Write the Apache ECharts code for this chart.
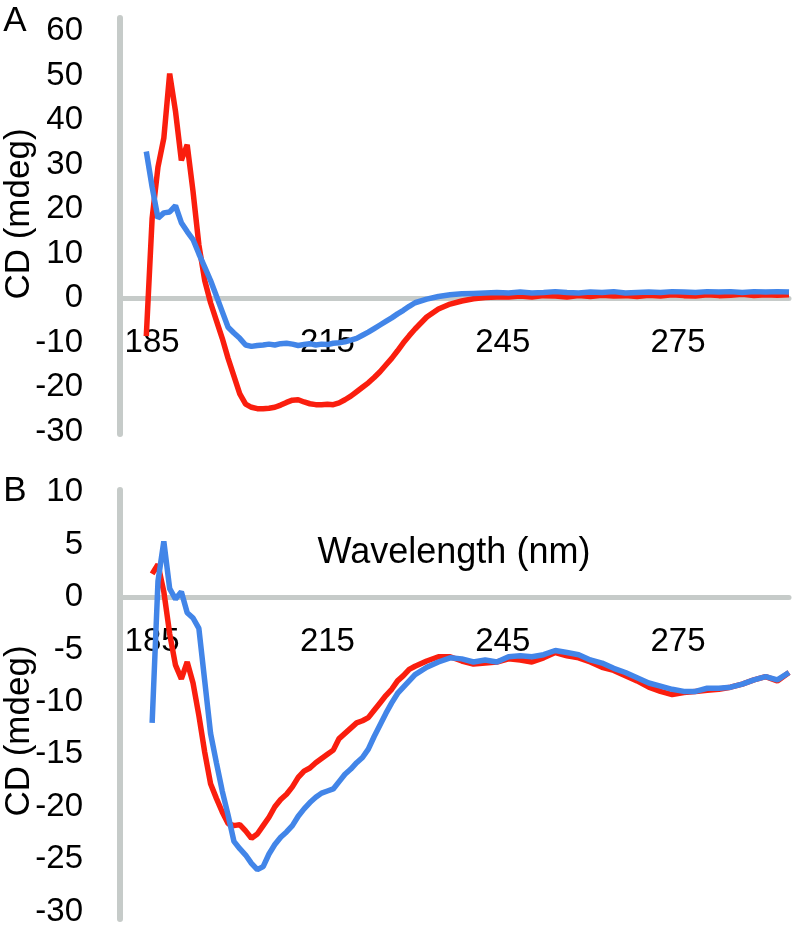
<!DOCTYPE html>
<html><head><meta charset="utf-8">
<script src="https://cdn.jsdelivr.net/npm/echarts@6/dist/echarts.min.js"></script>
<style>html,body{margin:0;padding:0;background:#fff}#c{width:796px;height:936px}</style>
</head><body><div id="c"></div>
<script>
// Wavelength (nm)
const wavelengths = [184,185,186,187,188,189,190,191,192,193,194,195,196,197,198,199,200,201,202,203,204,205,206,207,208,209,210,211,212,213,214,215,216,217,218,219,220,221,222,223,224,225,226,227,228,229,230,
  232,234,236,238,240,242,244,246,248,250,252,254,256,258,260,262,264,266,268,270,272,274,276,278,280,282,284,286,288,290,292,294];
const xTickLabels = [185,215,245,275];
const yTicksA = [-30,-20,-10,0,10,20,30,40,50,60];
const yTicksB = [-30,-25,-20,-15,-10,-5,0,5,10];

// Panel A, CD (mdeg)
const panelARed = [-8.5,18,29.5,36,50.5,42,31,34.5,24,12,4,-1,-5,-9,-13.5,-17.5,-21.5,-23.8,-24.5,-24.8,-24.8,-24.7,-24.5,-24,-23.4,-22.9,-22.8,-23.3,-23.7,-23.9,-23.9,-23.8,-23.9,-23.5,-22.8,-22,-21,-20,-19,-17.8,-16.5,-15,-13.5,-11.8,-10,-8.4,-6.9,
  -4.2,-2.4,-1.3,-0.6,-0.1,0.2,0.3,0.3,0.5,0.3,0.6,0.5,0.3,0.6,0.4,0.7,0.5,0.6,0.4,0.7,0.5,0.8,0.6,0.5,0.8,0.6,0.7,0.9,0.6,0.8,0.7,0.8];
const panelABlue = [33,25,18,19.2,19.4,20.8,17,15,13.2,10,7,4,0.5,-3,-6.5,-7.8,-9,-10.5,-10.8,-10.6,-10.5,-10.3,-10.5,-10.2,-10.1,-10.3,-10.6,-10.4,-10.2,-10.5,-10.3,-10.4,-10.1,-10,-9.8,-9.4,-9,-8.3,-7.6,-6.8,-6,-5.2,-4.4,-3.5,-2.7,-1.8,-1,
  -0.2,0.4,0.8,1.0,1.1,1.2,1.3,1.2,1.4,1.2,1.3,1.5,1.3,1.2,1.4,1.3,1.5,1.2,1.3,1.4,1.3,1.5,1.4,1.3,1.5,1.4,1.5,1.3,1.5,1.4,1.5,1.4];

// Panel B, CD (mdeg)
const panelBRed = [null,2.2,3.1,0.5,-3.5,-6.5,-7.8,-6.2,-8.2,-11.3,-14.8,-17.8,-19.2,-20.5,-21.6,-21.8,-21.7,-22.3,-23,-22.6,-21.8,-21,-20,-19.3,-18.8,-18.1,-17.2,-16.6,-16.3,-15.8,-15.4,-15,-14.6,-13.5,-13,-12.5,-12,-11.8,-11.5,-10.8,-10.1,-9.4,-8.8,-8,-7.5,-6.9,-6.6,
  -6.1,-5.7,-5.7,-6.1,-6.4,-6.3,-6.2,-5.9,-6.0,-6.2,-5.8,-5.3,-5.6,-5.8,-6.2,-6.7,-7.0,-7.5,-8.0,-8.6,-9.0,-9.3,-9.1,-9.0,-8.9,-8.8,-8.6,-8.3,-7.9,-7.6,-8.0,-7.2];
const panelBBlue = [null,-12,1.5,5.3,0.8,-0.2,0.5,-1.5,-2,-3,-8,-13,-15.8,-18.5,-20.8,-23.3,-24,-24.6,-25.4,-26,-25.7,-24.5,-23.6,-22.9,-22.4,-21.8,-20.9,-20.2,-19.6,-19.1,-18.7,-18.5,-18.3,-17.6,-16.9,-16.4,-15.8,-15.3,-14.5,-13.3,-12.2,-11.1,-10.1,-9.2,-8.6,-8.0,-7.4,
  -6.7,-6.2,-5.8,-5.9,-6.2,-6.0,-6.2,-5.7,-5.6,-5.7,-5.5,-5.1,-5.3,-5.5,-6.0,-6.3,-6.8,-7.2,-7.7,-8.2,-8.5,-8.8,-9.0,-9.0,-8.7,-8.7,-8.6,-8.3,-7.9,-7.6,-7.9,-7.2];

const FONT = "'Liberation Sans', Arial, sans-serif";
const GRAY = '#c6cbc9';
const RED = '#fa1e0e';
const BLUE = '#4285e8';

function pairs(vals){ return wavelengths.map((w,i)=>[w, vals[i]]); }

// grids: A top 18 h 416 (y -30.5..63), B top 490 h 429 (y -30.7..10.2)
const gridA = {left:120, right:7, top:18, height:416};
const gridB = {left:120, right:7, top:490, height:429};
const yRangeA = [-30.5, 63];
const yRangeB = [-30.7, 10.2];
function zeroOffset(grid, range){
  // distance from grid bottom up to the value 0
  return -grid.height * (0 - range[0]) / (range[1] - range[0]);
}

function xAxisFor(idx, offset){
  return {
    type:'value', gridIndex:idx, min:179.5, max:294, position:'bottom', offset:offset,
    axisLine:{show:true, onZero:false, lineStyle:{color:GRAY, width:5}},
    axisTick:{show:false}, splitLine:{show:false},
    axisLabel:{customValues:xTickLabels, margin:28, fontSize:33, color:'#000', fontFamily:FONT}
  };
}
function yAxisFor(idx, range, ticks){
  return {
    type:'value', gridIndex:idx, min:range[0], max:range[1],
    axisLine:{show:true, lineStyle:{color:GRAY, width:6}},
    axisTick:{show:false}, splitLine:{show:false},
    axisLabel:{customValues:ticks, margin:37, fontSize:33, color:'#000', fontFamily:FONT}
  };
}
function line(idx, vals, color){
  return {type:'line', xAxisIndex:idx, yAxisIndex:idx, data:pairs(vals), showSymbol:false,
    lineStyle:{color:color, width:5.5}, itemStyle:{color:color}, connectNulls:false, animation:false, z:3};
}

const chart = echarts.init(document.getElementById('c'), null, {renderer:'canvas'});
chart.setOption({
  animation:false,
  backgroundColor:'#fff',
  grid:[gridA, gridB],
  xAxis:[xAxisFor(0, zeroOffset(gridA, yRangeA)), xAxisFor(1, zeroOffset(gridB, yRangeB))],
  yAxis:[yAxisFor(0, yRangeA, yTicksA), yAxisFor(1, yRangeB, yTicksB)],
  series:[
    line(0, panelARed, RED), line(0, panelABlue, BLUE),
    line(1, panelBRed, RED), line(1, panelBBlue, BLUE)
  ],
  graphic:[
    {type:'text', x:15, y:21, style:{text:'A', font:'35px '+FONT, fill:'#000', textAlign:'center', textVerticalAlign:'middle'}},
    {type:'text', x:15, y:491, style:{text:'B', font:'35px '+FONT, fill:'#000', textAlign:'center', textVerticalAlign:'middle'}},
    {type:'text', x:19, y:214, rotation:Math.PI/2, style:{text:'CD (mdeg)', font:'35px '+FONT, fill:'#000', textAlign:'center', textVerticalAlign:'middle'}},
    {type:'text', x:19, y:731, rotation:Math.PI/2, style:{text:'CD (mdeg)', font:'35px '+FONT, fill:'#000', textAlign:'center', textVerticalAlign:'middle'}},
    {type:'text', x:454, y:553, style:{text:'Wavelength (nm)', font:'36px '+FONT, fill:'#000', textAlign:'center', textVerticalAlign:'middle'}}
  ]
});
</script></body></html>
